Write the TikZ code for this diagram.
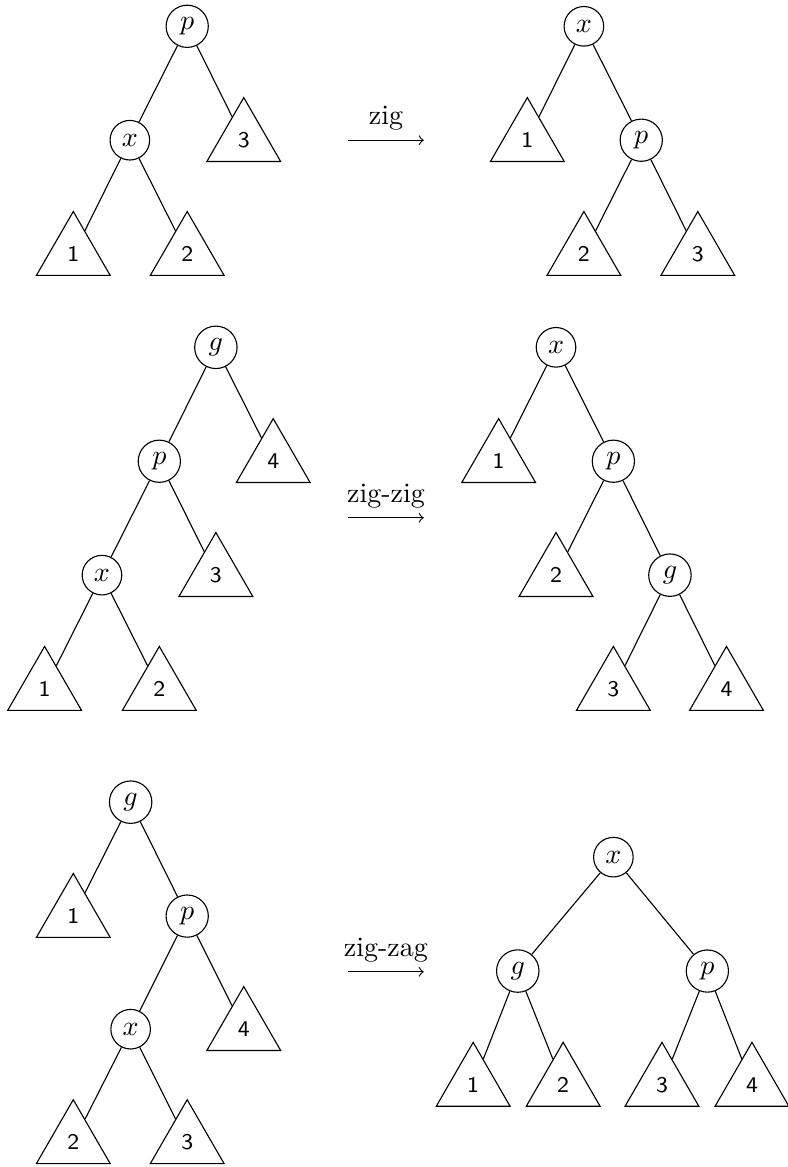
\documentclass[tikz,border=0pt]{standalone}
\usetikzlibrary{shapes.geometric}

\begin{document}
\begin{tikzpicture}[
  vtx/.style={circle, draw, inner sep=2.5pt},
  sub/.style={regular polygon, regular polygon sides=3, draw, inner sep=0pt,
    minimum size=1.07cm, font=\footnotesize\sffamily}]
\useasboundingbox (0,0) rectangle (9.88,-14.65);

% Zig: before
\node[vtx] (ap) at (2.35,-0.33) {$p$};
\node[vtx] (ax) at (1.63,-1.76) {$x$};
\node[sub] (a3) at (3.06,-1.76) {3};
\node[sub] (a1) at (0.92,-3.19) {1};
\node[sub] (a2) at (2.35,-3.19) {2};
\draw (ap) -- (ax);
\draw (ap) -- (a3);
\draw (ax) -- (a1);
\draw (ax) -- (a2);

% Zig: after
\node[vtx] (bx) at (7.33,-0.33) {$x$};
\node[sub] (b1) at (6.62,-1.76) {1};
\node[vtx] (bp) at (8.05,-1.76) {$p$};
\node[sub] (b2) at (7.33,-3.19) {2};
\node[sub] (b3) at (8.76,-3.19) {3};
\draw (bx) -- (b1);
\draw (bx) -- (bp);
\draw (bp) -- (b2);
\draw (bp) -- (b3);

% Zig arrow
\coordinate (a0) at (4.37,-1.76);
\coordinate (b0) at (5.32,-1.76);
\draw[->] (a0) -- (b0) node[midway, above] {zig};

% Zig-zig: before
\node[vtx] (cg) at (2.71,-4.36) {$g$};
\node[vtx] (cp) at (2.00,-5.79) {$p$};
\node[sub] (c4) at (3.43,-5.79) {4};
\node[vtx] (cx) at (1.28,-7.22) {$x$};
\node[sub] (c3) at (2.71,-7.22) {3};
\node[sub] (c1) at (0.56,-8.65) {1};
\node[sub] (c2) at (2.00,-8.65) {2};
\draw (cg) -- (cp);
\draw (cg) -- (c4);
\draw (cp) -- (cx);
\draw (cp) -- (c3);
\draw (cx) -- (c1);
\draw (cx) -- (c2);

% Zig-zig: after
\node[vtx] (dx) at (6.98,-4.36) {$x$};
\node[sub] (d1) at (6.26,-5.79) {1};
\node[vtx] (dp) at (7.70,-5.79) {$p$};
\node[sub] (d2) at (6.98,-7.22) {2};
\node[vtx] (dg) at (8.41,-7.22) {$g$};
\node[sub] (d3) at (7.70,-8.65) {3};
\node[sub] (d4) at (9.12,-8.65) {4};
\draw (dx) -- (d1);
\draw (dx) -- (dp);
\draw (dp) -- (d2);
\draw (dp) -- (dg);
\draw (dg) -- (d3);
\draw (dg) -- (d4);

% Zig-zig arrow
\coordinate (c0) at (4.37,-6.50);
\coordinate (d0) at (5.32,-6.50);
\draw[->] (c0) -- (d0) node[midway, above] {zig-zig};

% Zig-zag: before
\node[vtx] (eg) at (1.64,-10.07) {$g$};
\node[sub] (e1) at (0.92,-11.50) {1};
\node[vtx] (ep) at (2.35,-11.50) {$p$};
\node[vtx] (ex) at (1.64,-12.92) {$x$};
\node[sub] (e4) at (3.06,-12.92) {4};
\node[sub] (e2) at (0.92,-14.34) {2};
\node[sub] (e3) at (2.35,-14.34) {3};
\draw (eg) -- (e1);
\draw (eg) -- (ep);
\draw (ep) -- (ex);
\draw (ep) -- (e4);
\draw (ex) -- (e2);
\draw (ex) -- (e3);

% Zig-zag: after
\node[vtx] (fx) at (7.70,-10.76) {$x$};
\node[vtx] (fg) at (6.50,-12.19) {$g$};
\node[vtx] (fp) at (8.88,-12.19) {$p$};
\node[sub] (f1) at (5.94,-13.62) {1};
\node[sub] (f2) at (7.07,-13.62) {2};
\node[sub] (f3) at (8.31,-13.62) {3};
\node[sub] (f4) at (9.44,-13.62) {4};
\draw (fx) -- (fg);
\draw (fx) -- (fp);
\draw (fg) -- (f1);
\draw (fg) -- (f2);
\draw (fp) -- (f3);
\draw (fp) -- (f4);

% Zig-zag arrow
\coordinate (e0) at (4.37,-12.20);
\coordinate (f0) at (5.32,-12.20);
\draw[->] (e0) -- (f0) node[midway, above] {zig-zag};

\end{tikzpicture}
\end{document}
